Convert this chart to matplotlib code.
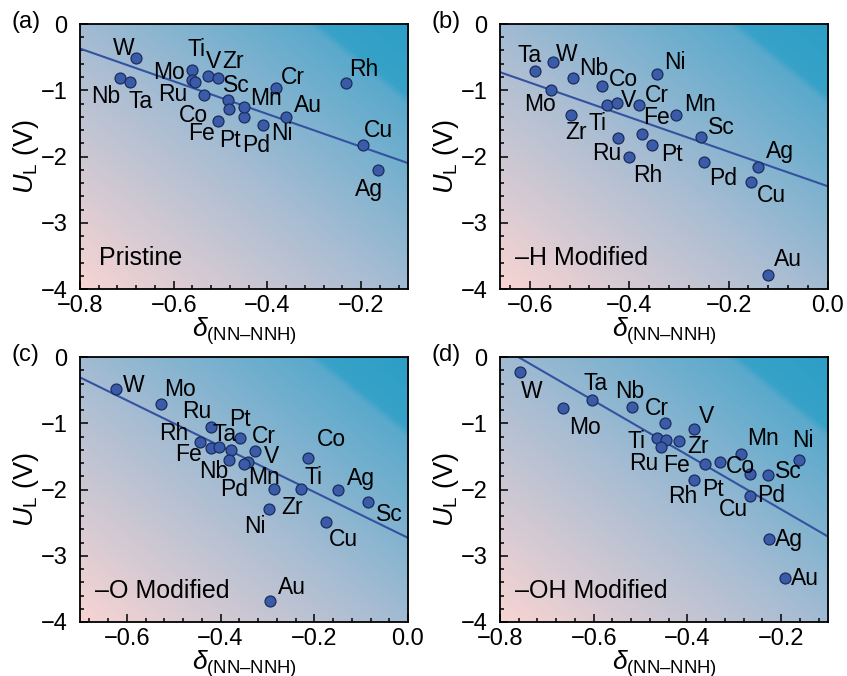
import numpy as np
import matplotlib
matplotlib.use('Agg')
from matplotlib import pyplot as plt
from matplotlib.colors import LinearSegmentedColormap

plt.rcParams['font.family'] = 'Liberation Sans'
plt.rcParams['mathtext.fontset'] = 'custom'
plt.rcParams['mathtext.rm'] = 'Liberation Sans'
plt.rcParams['mathtext.it'] = 'Liberation Sans:italic'

# (a) pristine
names_a = ['W', 'Nb', 'Ta', 'Ti', 'V', 'Zr', 'Mo', 'Ru', 'Co', 'Sc', 'Fe', 'Pt', 'Pd',
           'Mn', 'Ni', 'Cr', 'Au', 'Rh', 'Cu', 'Ag']
x_a = [-0.680, -0.715, -0.694, -0.560, -0.526, -0.506, -0.560, -0.554, -0.535, -0.485,
       -0.506, -0.481, -0.450, -0.450, -0.410, -0.382, -0.361, -0.232, -0.197, -0.163]
y_a = [-0.52, -0.82, -0.87, -0.70, -0.78, -0.81, -0.84, -0.87, -1.07, -1.14,
       -1.46, -1.29, -1.40, -1.26, -1.53, -0.96, -1.40, -0.89, -1.83, -2.20]

# (b) -H modified
names_b = ['Ta', 'W', 'Mo', 'Nb', 'Zr', 'Co', 'Ti', 'V', 'Ru', 'Rh', 'Cr', 'Fe', 'Pt',
           'Ni', 'Mn', 'Sc', 'Pd', 'Ag', 'Cu', 'Au']
x_b = [-0.590, -0.554, -0.558, -0.514, -0.518, -0.455, -0.444, -0.424, -0.423, -0.400,
       -0.381, -0.375, -0.354, -0.345, -0.305, -0.255, -0.250, -0.141, -0.155, -0.120]
y_b = [-0.71, -0.58, -1.00, -0.82, -1.37, -0.94, -1.23, -1.19, -1.72, -2.00,
       -1.22, -1.66, -1.83, -0.76, -1.38, -1.71, -2.08, -2.16, -2.38, -3.79]

# (c) -O modified
names_c = ['W', 'Mo', 'Ru', 'Rh', 'Fe', 'Ta', 'Pt', 'Cr', 'V', 'Nb', 'Pd', 'Mn', 'Zr',
           'Ti', 'Ni', 'Co', 'Ag', 'Cu', 'Sc', 'Au']
x_c = [-0.624, -0.528, -0.420, -0.444, -0.420, -0.403, -0.359, -0.327, -0.342, -0.377,
       -0.381, -0.351, -0.286, -0.229, -0.296, -0.213, -0.150, -0.176, -0.085, -0.295]
y_c = [-0.48, -0.71, -1.05, -1.28, -1.38, -1.36, -1.23, -1.42, -1.59, -1.41,
       -1.56, -1.61, -1.99, -1.99, -2.29, -1.53, -2.00, -2.49, -2.19, -3.69]

# (d) -OH modified
names_d = ['W', 'Mo', 'Ta', 'Nb', 'Cr', 'V', 'Ti', 'Fe', 'Zr', 'Ru', 'Pt', 'Co', 'Rh',
           'Mn', 'Cu', 'Pd', 'Sc', 'Ni', 'Ag', 'Au']
x_d = [-0.757, -0.665, -0.603, -0.518, -0.447, -0.386, -0.465, -0.446, -0.418, -0.456,
       -0.363, -0.331, -0.386, -0.285, -0.267, -0.267, -0.229, -0.162, -0.226, -0.192]
y_d = [-0.22, -0.77, -0.65, -0.75, -1.00, -1.08, -1.22, -1.25, -1.27, -1.36,
       -1.61, -1.58, -1.85, -1.46, -1.77, -2.10, -1.78, -1.56, -2.74, -3.33]

# linear fits (slope, intercept) as drawn
fit_a = (-2.47, -2.347)
fit_b = (-2.61, -2.45)
fit_c = (-3.46, -2.73)
fit_d = (-4.10, -3.12)

titles = ['Pristine', '\u2013H Modified', '\u2013O Modified', '\u2013OH Modified']
tags = ['(a)', '(b)', '(c)', '(d)']
xlims = [(-0.8, -0.1), (-0.66, 0.0), (-0.7, 0.0), (-0.8, -0.1)]

# label offsets in points, per panel
offs_a = {'W': (-9, 7), 'Nb': (-10, -13), 'Ta': (8, -14), 'Ti': (3, 15), 'V': (4, 10),
          'Zr': (11, 11.5), 'Mo': (-17, 5), 'Ru': (-16, -9), 'Co': (-8, -15), 'Sc': (6.5, 10),
          'Fe': (-12, -9), 'Pt': (0.5, -22), 'Pd': (9, -21), 'Mn': (16, 6.5), 'Ni': (14, -6),
          'Cr': (12.5, 7), 'Au': (16, 8), 'Rh': (13, 10), 'Cu': (11.5, 10.5), 'Ag': (-6.5, -14.5)}
offs_b = {'Ta': (-3.6, 11.5), 'W': (10, 6), 'Nb': (15, 7), 'Mo': (-7.7, -10), 'Zr': (3.8, -13),
          'Co': (15.4, 5), 'Ti': (-7, -13), 'V': (8, 2), 'Cr': (13, 7), 'Fe': (11, 12),
          'Ru': (-8, -11), 'Rh': (13.7, -13.7), 'Pt': (14, -6.7), 'Ni': (13, 8.4), 'Mn': (17, 8),
          'Sc': (14.4, 7), 'Pd': (14, -12), 'Ag': (15.6, 11.3), 'Cu': (15, -10.3), 'Au': (14.4, 11.5)}
offs_c = {'W': (12.7, 2.4), 'Mo': (14, 10.3), 'Ru': (-10.6, 10.8), 'Rh': (-19, 6), 'Fe': (-16, -4.3),
          'Ta': (4, 9), 'Pt': (0.2, 14), 'Cr': (6.7, 10.8), 'V': (16.8, 4.3), 'Nb': (-12.5, -15),
          'Pd': (3, -21), 'Mn': (15, -10), 'Zr': (13, -13.7), 'Ti': (9, 8), 'Ni': (-10.6, -12.5),
          'Co': (16.8, 13.7), 'Ag': (17, 7.7), 'Cu': (13, -12.5), 'Sc': (15, -9), 'Au': (16, 10)}
offs_d = {'W': (8.4, -14), 'Mo': (16, -14), 'Ta': (2.6, 12), 'Nb': (-1.7, 11), 'Cr': (-6, 10.8),
          'V': (9, 9), 'Ti': (-15, -3), 'Fe': (8, -18.5), 'Zr': (14, -4), 'Ru': (-12.5, -12),
          'Pt': (6, -18.5), 'Co': (15, -3.6), 'Rh': (-8.4, -12.5), 'Mn': (15.6, 11), 'Cu': (-12, -25.7),
          'Pd': (15.6, 0.7), 'Sc': (15, 2.4), 'Ni': (3, 14), 'Ag': (14.6, -0.7), 'Au': (14.4, -0.7)}

panels = [(names_a, x_a, y_a, fit_a, offs_a), (names_b, x_b, y_b, fit_b, offs_b),
          (names_c, x_c, y_c, fit_c, offs_c), (names_d, x_d, y_d, fit_d, offs_d)]

bg = LinearSegmentedColormap.from_list('bg', [(0.0, '#f8d4d2'), (0.46, '#a9bdd3'),
                                              (0.85, '#5aa9cc'), (0.865, '#38a2c8'),
                                              (1.0, '#2c9ec6')])
gx, gy = np.meshgrid(np.linspace(0, 1, 200), np.linspace(0, 1, 200))
grad = (gx + gy) / 2

xlab = r'$\delta_{\mathrm{(NN' + '\u2013' + r'NNH)}}$'

fig = plt.figure(figsize=(8.47, 6.76), dpi=100)
W, H = 847, 676
boxes = [(80, 24), (500, 24), (80, 357), (500, 357)]

for i, (names, xs, ys, fit, offs) in enumerate(panels):
    left, top = boxes[i]
    ax = fig.add_axes([left / W, 1 - (top + 265) / H, 328 / W, 265 / H])
    ax.imshow(grad, cmap=bg, origin='lower', extent=[0, 1, 0, 1], transform=ax.transAxes,
              aspect='auto', zorder=0, interpolation='bilinear')
    xl = np.array(xlims[i])
    ax.plot(xl, fit[0] * xl + fit[1], color='#3352a0', lw=1.5, zorder=2)
    ax.scatter(xs, ys, s=62, color='#3a5ba8', edgecolor='#1c2c5c', linewidth=0.9, zorder=3)
    for n, x, y in zip(names, xs, ys):
        ax.annotate(n, (x, y), xytext=offs[n], textcoords='offset points',
                    ha='center', va='center', fontsize=16.5, zorder=4)
    ax.text(0.045 if i else 0.058, 0.117, titles[i], transform=ax.transAxes, fontsize=18,
            va='center', ha='left', zorder=4)
    ax.set_xlim(*xlims[i])
    ax.set_ylim(-4, 0)
    ax.set_xticks(np.arange(-0.8, 0.01, 0.2))
    ax.set_xticks(np.arange(-0.8, 0.01, 0.04), minor=True)
    ax.set_xlim(*xlims[i])
    ax.set_yticks([0, -1, -2, -3, -4])
    ax.set_yticks(np.arange(-4, 0.01, 0.2), minor=True)
    ax.set_xticklabels(['\u22120.8', '\u22120.6', '\u22120.4', '\u22120.2', '0.0'])
    ax.set_yticklabels(['0', '\u22121', '\u22122', '\u22123', '\u22124'])
    ax.tick_params(which='both', direction='in', labelsize=17, width=1.1)
    ax.tick_params(which='major', length=6)
    ax.tick_params(axis='x', which='major', pad=4)
    ax.tick_params(axis='y', which='major', pad=9)
    ax.tick_params(which='minor', length=3)
    for s in ax.spines.values():
        s.set_linewidth(1.3)
    ax.set_xlabel(xlab, fontsize=19, labelpad=-1)
    ax.set_ylabel(r'$U_{\mathrm{L}}$ (V)', fontsize=19.5, labelpad=0)
    fig.text((left - 69) / W, 1 - (top - 2) / H, tags[i], fontsize=17, va='center', ha='left')

fig.savefig('out.png', dpi=100)
